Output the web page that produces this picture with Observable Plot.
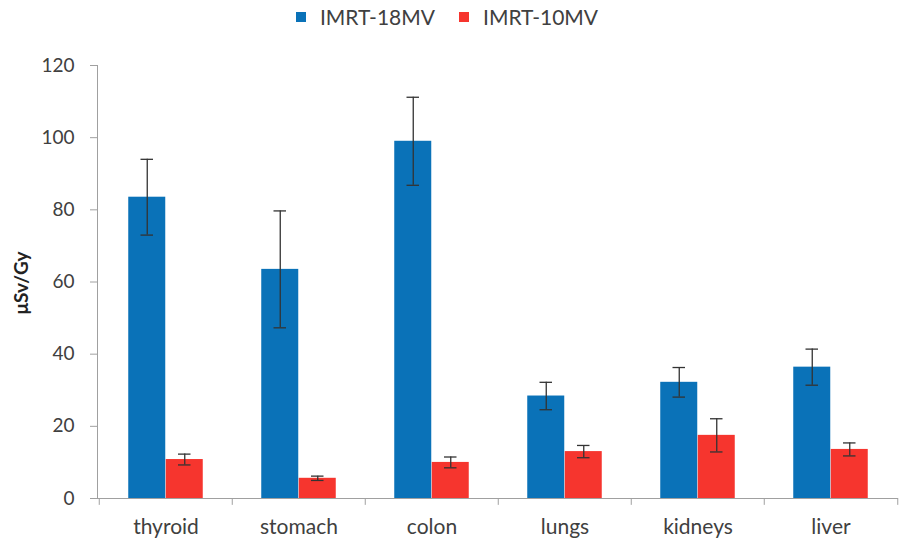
<!DOCTYPE html>
<html>
<head>
<meta charset="utf-8">
<script src="https://cdn.jsdelivr.net/npm/d3@7"></script>
<script src="https://cdn.jsdelivr.net/npm/@observablehq/plot@0.6"></script>
<style>
  body { margin: 0; background: #fff; }
  #wrap { position: relative; width: 902px; height: 549px; font-family: Lato, "Open Sans", sans-serif; }
  #legend { position: absolute; top: 4px; left: -4px; width: 902px; display: flex; justify-content: center; gap: 24px; font-size: 21px; line-height: 1.2; color: #404040; z-index: 2; }
  #legend span.item { display: flex; align-items: center; gap: 14px; }
  #legend span.sw { display: inline-block; width: 10px; height: 10px; }
  #chart { position: absolute; top: 0; left: 0; }
</style>
</head>
<body>
<div id="wrap">
  <div id="legend"></div>
  <div id="chart"></div>
</div>
<script>
const categories = ["thyroid", "stomach", "colon", "lungs", "kidneys", "liver"];
const seriesNames = ["IMRT-18MV", "IMRT-10MV"];
const colors = ["#0A72B8", "#F6352E"];
const mv18 = [83.5, 63.5, 99.0, 28.4, 32.2, 36.4];
const mv18Err = [10.5, 16.2, 12.2, 3.8, 4.1, 5.0];
const mv10 = [10.8, 5.6, 10.0, 13.0, 17.5, 13.6];
const mv10Err = [1.5, 0.6, 1.5, 1.7, 4.6, 1.8];
const yTicks = [0, 20, 40, 60, 80, 100, 120];
const yLabel = "μSv/Gy";

const width = 902, height = 549;
const marginLeft = 97, marginRight = 4, marginTop = 65, marginBottom = 51;
const step = (width - marginLeft - marginRight) / categories.length;
const barW = 37.5;
const outer = (step - 2 * barW) / 2;
const capHalf = 6.5;

const d18 = categories.map((c, i) => ({cat: c, v: mv18[i], e: mv18Err[i]}));
const d10 = categories.map((c, i) => ({cat: c, v: mv10[i], e: mv10Err[i]}));

// legend
const leg = document.getElementById("legend");
seriesNames.forEach((s, i) => {
  const it = document.createElement("span");
  it.className = "item";
  it.innerHTML = `<span class="sw" style="background:${colors[i]}"></span><span>${s}</span>`;
  leg.appendChild(it);
});

const ink = "#404040";
const errInk = "#333333";
const axisInk = "#a0a0a0";
const errStyle = {stroke: errInk, strokeWidth: 1.3};

const plot = Plot.plot({
  width, height, marginLeft, marginRight, marginTop, marginBottom,
  style: {fontFamily: "Lato, 'Open Sans', sans-serif", background: "transparent"},
  x: {domain: categories, padding: 0, axis: null},
  y: {domain: [0, 120], axis: null},
  marks: [
    Plot.barY(d18, {x: "cat", y: "v", fill: colors[0], insetLeft: outer, insetRight: outer + barW}),
    Plot.barY(d10, {x: "cat", y: "v", fill: colors[1], insetLeft: outer + barW, insetRight: outer}),
    // error bars
    Plot.ruleX(d18, {x: "cat", y1: d => d.v - d.e, y2: d => d.v + d.e, dx: -barW / 2, ...errStyle}),
    Plot.tickY(d18, {x: "cat", y: d => d.v + d.e, insetLeft: step / 2 - barW / 2 - capHalf, insetRight: step / 2 + barW / 2 - capHalf, ...errStyle}),
    Plot.tickY(d18, {x: "cat", y: d => d.v - d.e, insetLeft: step / 2 - barW / 2 - capHalf, insetRight: step / 2 + barW / 2 - capHalf, ...errStyle}),
    Plot.ruleX(d10, {x: "cat", y1: d => d.v - d.e, y2: d => d.v + d.e, dx: barW / 2, ...errStyle}),
    Plot.tickY(d10, {x: "cat", y: d => d.v + d.e, insetLeft: step / 2 + barW / 2 - capHalf, insetRight: step / 2 - barW / 2 - capHalf, ...errStyle}),
    Plot.tickY(d10, {x: "cat", y: d => d.v - d.e, insetLeft: step / 2 + barW / 2 - capHalf, insetRight: step / 2 - barW / 2 - capHalf, ...errStyle}),
    // axes lines
    Plot.frame({anchor: "left", stroke: axisInk}),
    Plot.ruleY([0], {stroke: axisInk}),
    // category boundary ticks
    Plot.ruleX(categories, {x: d => d, dx: -step / 2, y1: 0, y2: -1.9, stroke: axisInk}),
    Plot.ruleX(categories.slice(-1), {x: d => d, dx: step / 2, y1: 0, y2: -1.9, stroke: axisInk}),
    Plot.axisY({ticks: yTicks, tickSize: 7, tickPadding: 16, fontSize: 19, color: axisInk, fill: ink, label: null}),
    Plot.axisX({tickSize: 0, tickPadding: 21, fontSize: 21, fill: ink, label: null}),
    Plot.text([yLabel], {frameAnchor: "left", textAnchor: "middle", dx: -76, dy: 1, rotate: -90, text: d => d, fontSize: 19, fontWeight: "bold", fill: "#222"})
  ]
});
document.getElementById("chart").appendChild(plot);
</script>
</body>
</html>
